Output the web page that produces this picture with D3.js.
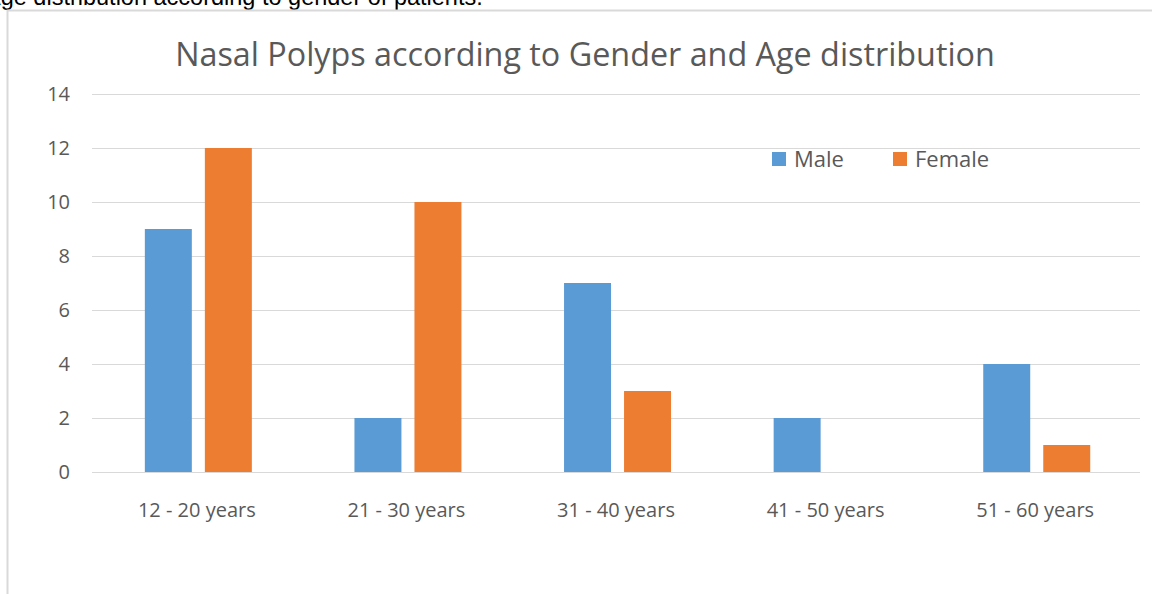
<!DOCTYPE html>
<html>
<head>
<meta charset="utf-8">
<script src="https://cdn.jsdelivr.net/npm/d3@7"></script>
<style>
  html, body { margin: 0; padding: 0; background: #fff; overflow: hidden; }
  svg { display: block; }
</style>
</head>
<body>
<svg id="chart" width="1152" height="594"></svg>
<script>
// chart data
const categories = ['12 - 20 years', '21 - 30 years', '31 - 40 years', '41 - 50 years', '51 - 60 years'];
const seriesNames = ['Male', 'Female'];
const maleValues = [9, 2, 7, 2, 4];
const femaleValues = [12, 10, 3, 0, 1];
const yTicks = [0, 2, 4, 6, 8, 10, 12, 14];

const colors = { Male: '#5b9bd5', Female: '#ed7d31' };
const textGray = '#595959';
const font = "'Open Sans', 'Noto Sans', sans-serif";

const svg = d3.select('#chart');

// caption cut off at the top of the page
svg.append('text')
  .attr('x', -15)
  .attr('y', 5)
  .attr('font-family', "'Liberation Sans', Arial, sans-serif")
  .attr('font-size', 23.5)
  .attr('fill', '#000')
  .text('Age distribution according to gender of patients.');

// chart frame
svg.append('path')
  .attr('d', 'M1152,10.5 H7.5 V594')
  .attr('fill', 'none')
  .attr('stroke', '#d9d9d9')
  .attr('stroke-width', 2);

const margin = { left: 92, right: 12, top: 94, bottom: 122 };
const width = 1152 - margin.left - margin.right;
const height = 594 - margin.top - margin.bottom;

const g = svg.append('g').attr('transform', `translate(${margin.left},${margin.top})`);

const x0 = d3.scaleBand().domain(categories).range([0, width]).padding(0);
const x1 = d3.scaleBand().domain(seriesNames).range([0, x0.bandwidth()])
  .paddingInner(0.217).paddingOuter(0.855).align(0.515);
const y = d3.scaleLinear().domain([0, 14]).range([height, 0]);

// gridlines
g.selectAll('.grid')
  .data(yTicks)
  .enter().append('line')
  .attr('x1', 0).attr('x2', width)
  .attr('y1', d => Math.round(y(d)) + 0.5)
  .attr('y2', d => Math.round(y(d)) + 0.5)
  .attr('stroke', '#d9d9d9')
  .attr('stroke-width', 1);

// y axis labels
const yAxis = d3.axisLeft(y).tickValues(yTicks).tickSize(0).tickPadding(22);
g.append('g').call(yAxis)
  .call(s => s.select('.domain').remove())
  .selectAll('text')
  .attr('font-family', font)
  .attr('font-size', 20)
  .attr('fill', textGray);

// bars
const rows = categories.map((c, i) => ({ cat: c, Male: maleValues[i], Female: femaleValues[i] }));
const groups = g.selectAll('.grp')
  .data(rows)
  .enter().append('g')
  .attr('transform', d => `translate(${x0(d.cat)},0)`);

groups.selectAll('rect')
  .data(d => seriesNames.map(k => ({ key: k, value: d[k] })))
  .enter().append('rect')
  .attr('x', d => x1(d.key))
  .attr('width', x1.bandwidth())
  .attr('y', d => y(d.value))
  .attr('height', d => y(0) - y(d.value))
  .attr('fill', d => colors[d.key]);

// x axis labels
const xAxis = d3.axisBottom(x0).tickSize(0).tickPadding(31);
g.append('g').attr('transform', `translate(0,${height})`).call(xAxis)
  .call(s => s.select('.domain').remove())
  .selectAll('text')
  .attr('font-family', font)
  .attr('font-size', 20)
  .attr('fill', textGray);

// title, scaled to the reference width
const title = svg.append('text')
  .attr('x', 585)
  .attr('y', 66)
  .attr('text-anchor', 'middle')
  .attr('font-family', font)
  .attr('font-size', 28)
  .attr('fill', textGray)
  .text('Nasal Polyps according to Gender and Age distribution');
const tw = title.node().getComputedTextLength();
title.attr('font-size', 28 * 820 / tw);

// legend
const legendX = [772, 893];
const legend = svg.selectAll('.legend')
  .data(seriesNames)
  .enter().append('g')
  .attr('transform', (d, i) => `translate(${legendX[i]},152)`);
legend.append('rect')
  .attr('width', 14).attr('height', 14)
  .attr('fill', d => colors[d]);
legend.append('text')
  .attr('x', 22)
  .attr('y', 15)
  .attr('font-family', font)
  .attr('font-size', 22)
  .attr('fill', textGray)
  .text(d => d);
</script>
</body>
</html>
